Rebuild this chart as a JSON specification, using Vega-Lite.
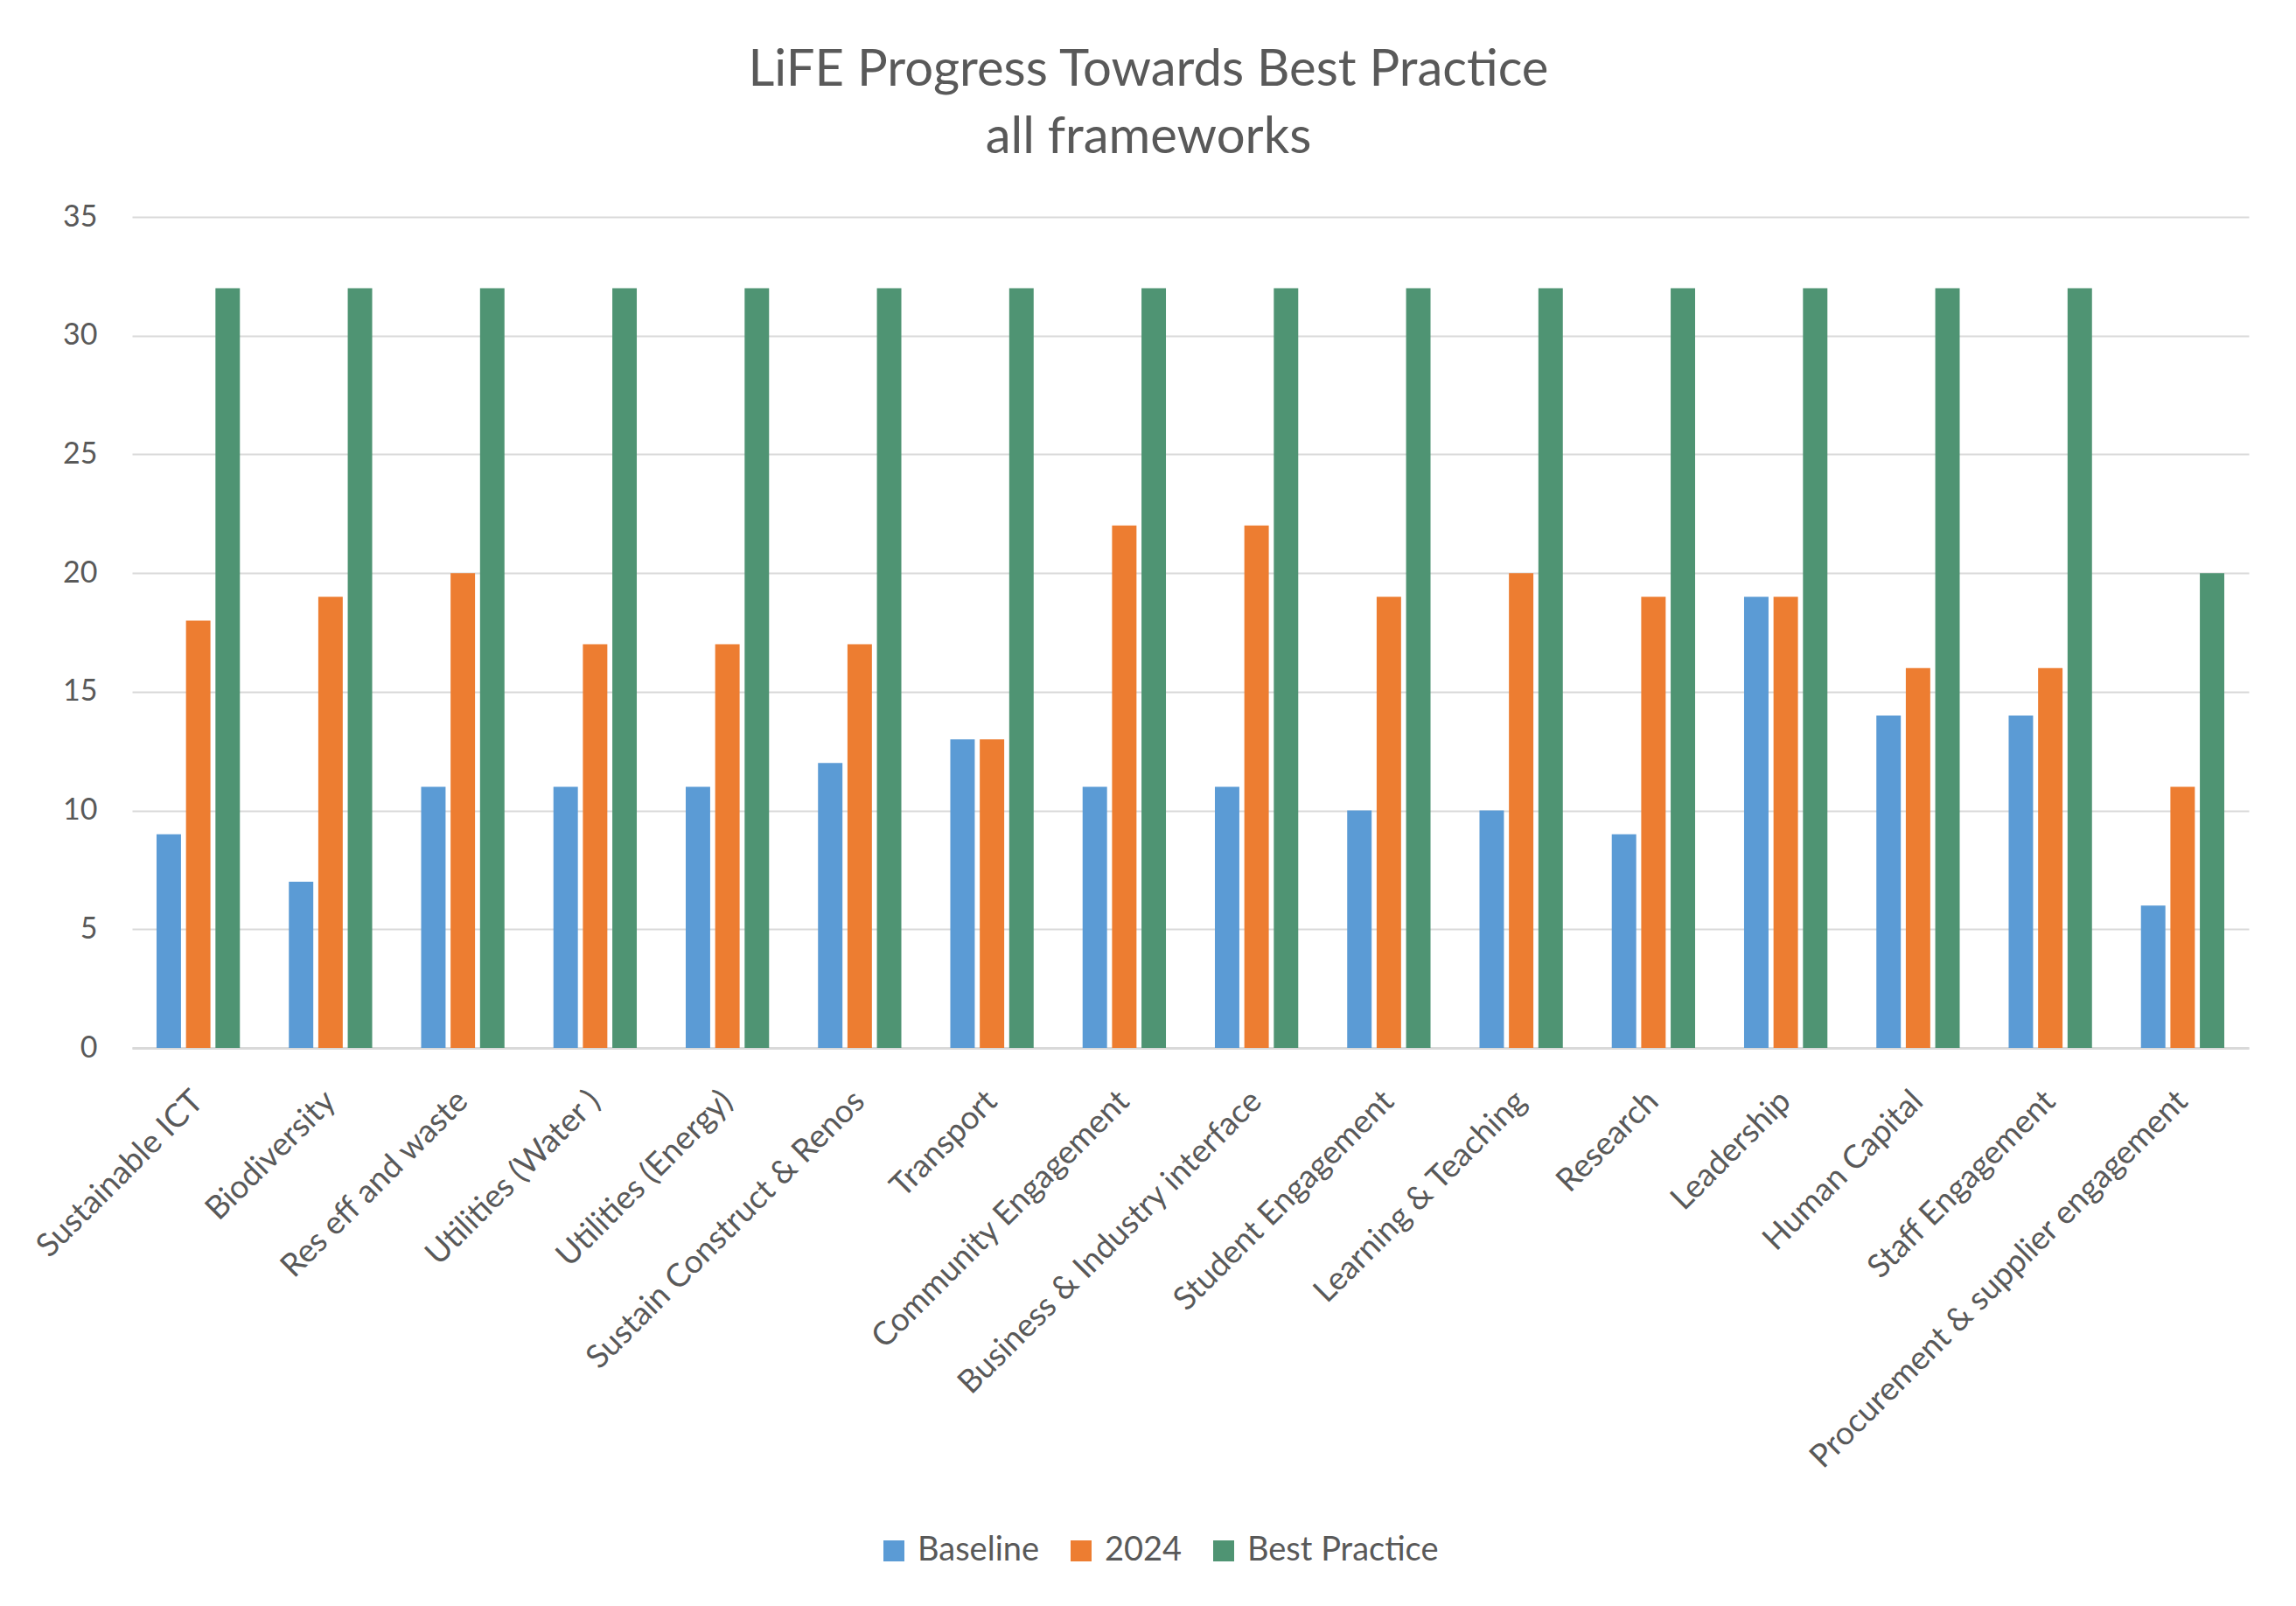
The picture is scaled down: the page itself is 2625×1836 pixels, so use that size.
{
  "$schema": "https://vega.github.io/schema/vega-lite/v6.json",
  "width": 2420,
  "height": 950,
  "autosize": {"type": "none"},
  "padding": {"left": 151, "top": 248, "right": 54, "bottom": 638},
  "background": "white",
  "title": {
    "text": ["LiFE Progress Towards Best Practice", "all frameworks"],
    "font": "Lato",
    "fontSize": 58,
    "fontWeight": "normal",
    "color": "#595959",
    "lineHeight": 77,
    "anchor": "middle",
    "dx": -48,
    "offset": 44
  },
  "data": {
    "values": [
      {"category": "Sustainable ICT", "series": "Baseline", "value": 9},
      {"category": "Sustainable ICT", "series": "2024", "value": 18},
      {"category": "Sustainable ICT", "series": "Best Practice", "value": 32},
      {"category": "Biodiversity", "series": "Baseline", "value": 7},
      {"category": "Biodiversity", "series": "2024", "value": 19},
      {"category": "Biodiversity", "series": "Best Practice", "value": 32},
      {"category": "Res eff and waste", "series": "Baseline", "value": 11},
      {"category": "Res eff and waste", "series": "2024", "value": 20},
      {"category": "Res eff and waste", "series": "Best Practice", "value": 32},
      {"category": "Utilities (Water )", "series": "Baseline", "value": 11},
      {"category": "Utilities (Water )", "series": "2024", "value": 17},
      {"category": "Utilities (Water )", "series": "Best Practice", "value": 32},
      {"category": "Utilities (Energy)", "series": "Baseline", "value": 11},
      {"category": "Utilities (Energy)", "series": "2024", "value": 17},
      {"category": "Utilities (Energy)", "series": "Best Practice", "value": 32},
      {"category": "Sustain Construct & Renos", "series": "Baseline", "value": 12},
      {"category": "Sustain Construct & Renos", "series": "2024", "value": 17},
      {"category": "Sustain Construct & Renos", "series": "Best Practice", "value": 32},
      {"category": "Transport", "series": "Baseline", "value": 13},
      {"category": "Transport", "series": "2024", "value": 13},
      {"category": "Transport", "series": "Best Practice", "value": 32},
      {"category": "Community Engagement", "series": "Baseline", "value": 11},
      {"category": "Community Engagement", "series": "2024", "value": 22},
      {"category": "Community Engagement", "series": "Best Practice", "value": 32},
      {"category": "Business & Industry interface", "series": "Baseline", "value": 11},
      {"category": "Business & Industry interface", "series": "2024", "value": 22},
      {"category": "Business & Industry interface", "series": "Best Practice", "value": 32},
      {"category": "Student Engagement", "series": "Baseline", "value": 10},
      {"category": "Student Engagement", "series": "2024", "value": 19},
      {"category": "Student Engagement", "series": "Best Practice", "value": 32},
      {"category": "Learning & Teaching", "series": "Baseline", "value": 10},
      {"category": "Learning & Teaching", "series": "2024", "value": 20},
      {"category": "Learning & Teaching", "series": "Best Practice", "value": 32},
      {"category": "Research", "series": "Baseline", "value": 9},
      {"category": "Research", "series": "2024", "value": 19},
      {"category": "Research", "series": "Best Practice", "value": 32},
      {"category": "Leadership", "series": "Baseline", "value": 19},
      {"category": "Leadership", "series": "2024", "value": 19},
      {"category": "Leadership", "series": "Best Practice", "value": 32},
      {"category": "Human Capital", "series": "Baseline", "value": 14},
      {"category": "Human Capital", "series": "2024", "value": 16},
      {"category": "Human Capital", "series": "Best Practice", "value": 32},
      {"category": "Staff Engagement", "series": "Baseline", "value": 14},
      {"category": "Staff Engagement", "series": "2024", "value": 16},
      {"category": "Staff Engagement", "series": "Best Practice", "value": 32},
      {"category": "Procurement & supplier engagement", "series": "Baseline", "value": 6},
      {"category": "Procurement & supplier engagement", "series": "2024", "value": 11},
      {"category": "Procurement & supplier engagement", "series": "Best Practice", "value": 20}
    ]
  },
  "mark": {"type": "bar"},
  "encoding": {
    "x": {
      "field": "category",
      "type": "nominal",
      "sort": null,
      "scale": {"paddingInner": 0.37, "paddingOuter": 0.185},
      "axis": {
        "title": null,
        "labelAngle": -45,
        "labelAlign": "right",
        "labelBaseline": "middle",
        "labelFont": "Lato",
        "labelFontSize": 37,
        "labelColor": "#595959",
        "labelPadding": 55,
        "labelLimit": 0,
        "ticks": false,
        "domainColor": "#D9D9D9",
        "domainWidth": 3,
        "grid": false
      }
    },
    "xOffset": {
      "field": "series",
      "type": "nominal",
      "sort": ["Baseline", "2024", "Best Practice"],
      "scale": {"paddingInner": 0.17}
    },
    "y": {
      "field": "value",
      "type": "quantitative",
      "scale": {"domain": [0, 35]},
      "axis": {
        "title": null,
        "values": [0, 5, 10, 15, 20, 25, 30, 35],
        "labelFont": "Lato",
        "labelFontSize": 34,
        "labelColor": "#595959",
        "labelPadding": 40,
        "ticks": false,
        "domain": false,
        "grid": true,
        "gridColor": "#D9D9D9",
        "gridWidth": 2
      }
    },
    "color": {
      "field": "series",
      "type": "nominal",
      "sort": ["Baseline", "2024", "Best Practice"],
      "scale": {
        "domain": ["Baseline", "2024", "Best Practice"],
        "range": ["#5B9BD5", "#ED7D31", "#4F9473"]
      },
      "legend": {
        "title": null,
        "orient": "none",
        "direction": "horizontal",
        "legendX": 852,
        "legendY": 1506,
        "symbolType": "square",
        "symbolSize": 576,
        "symbolStrokeWidth": 0,
        "labelFont": "Lato",
        "labelFontSize": 38,
        "labelColor": "#595959",
        "labelOffset": 8,
        "labelLimit": 0,
        "columnPadding": 28,
        "padding": 0
      }
    }
  },
  "config": {
    "view": {"stroke": null}
  }
}
